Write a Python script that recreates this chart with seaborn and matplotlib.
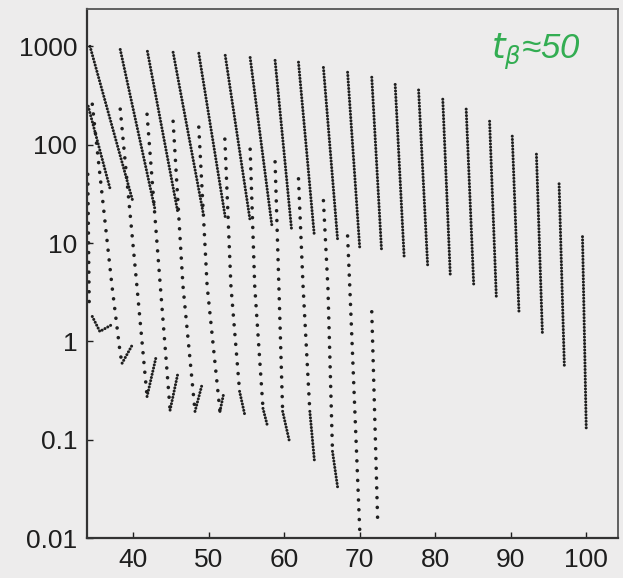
import matplotlib
matplotlib.use("Agg")
import matplotlib.pyplot as plt
import seaborn as sns

# -----------------------------
# Data (x = mass number, y on log scale)
# -----------------------------
# dense branches hanging from the top: start point -> end point
top_x_start = [34.3, 38.3, 41.9, 45.3, 48.7, 52.2, 55.5, 58.8, 61.9, 65.2, 68.4,
               71.6, 74.7, 77.8, 81.0, 84.1, 87.2, 90.2, 93.4, 96.4, 99.5]
top_y_start = [1000, 930, 890, 870, 850, 810, 770, 720, 690, 610, 545,
               485, 410, 360, 290, 230, 173, 122, 80, 40, 11.6]
top_x_end = [40.0, 42.9, 45.9, 49.3, 52.2, 55.5, 58.4, 61.0, 64.0, 67.1, 70.0,
             72.9, 75.9, 79.0, 82.0, 85.1, 88.1, 91.1, 94.2, 97.1, 100.0]
top_y_end = [26, 22, 21, 19.8, 18.4, 16.8, 14.6, 13.3, 11.8, 10.3, 9.1,
             8.3, 6.9, 5.9, 4.6, 3.7, 2.7, 1.9, 1.15, 0.55, 0.124]

# sparse (dotted) branches, a few points along each
sparse_x = [
    [34.0, 34.2],
    [34.6, 37.2, 38.3, 38.55],
    [38.3, 40.5, 41.85],
    [41.85, 43.6, 44.9],
    [45.3, 46.6, 48.2],
    [48.7, 49.8, 51.5],
    [52.15, 52.95, 54.1],
    [55.5, 56.1, 57.2],
    [58.8, 59.3, 59.8],
    [61.9, 62.5, 63.4],
    [65.2, 65.8, 66.4],
    [68.4, 68.7, 70.1],
    [71.6, 72.0, 72.4],
]
sparse_y = [
    [50, 2.05],
    [258, 3.7, 0.75, 0.6],
    [230, 3.7, 0.275],
    [204, 3.7, 0.2],
    [173, 3.7, 0.194],
    [151, 3.7, 0.194],
    [114, 3.7, 0.31],
    [90, 3.7, 0.208],
    [67, 3.7, 0.194],
    [45, 3.7, 0.194],
    [27, 3.44, 0.076],
    [11.8, 3.44, 0.008],
    [2.0, 0.165, 0.0132],
]

# short dense strokes (the lone segment at the left, bottom tails and hooks)
stroke_x = [
    [34.06, 36.96],
    [34.6, 35.6, 37.2],
    [38.55, 40.0],
    [41.85, 43.0],
    [44.9, 45.9],
    [48.2, 49.1],
    [51.5, 52.0],
    [54.1, 54.8],
    [57.2, 57.8],
    [59.8, 60.7],
    [63.4, 64.0],
    [66.4, 67.1],
]
stroke_y = [
    [246, 35.5],
    [1.79, 1.26, 1.48],
    [0.6, 0.95],
    [0.275, 0.67],
    [0.2, 0.46],
    [0.194, 0.356],
    [0.194, 0.296],
    [0.31, 0.177],
    [0.208, 0.137],
    [0.194, 0.096],
    [0.194, 0.062],
    [0.076, 0.032],
]

ytick_vals = [0.01, 0.1, 1, 10, 100, 1000]
ytick_labels = ["0.01", "0.1", "1", "10", "100", "1000"]
xtick_vals = [40, 50, 60, 70, 80, 90, 100]

BG = "#edecec"
INK = "#1f1f1f"

# -----------------------------
# Plot
# -----------------------------
sns.set_style("ticks")
plt.rcParams["font.family"] = ["Liberation Sans", "DejaVu Sans"]

fig = plt.figure(figsize=(6.23, 5.78), dpi=100, facecolor=BG)
ax = fig.add_axes([87 / 623, 1 - 538 / 578, 531 / 623, 529 / 578])
ax.set_facecolor(BG)
ax.set_yscale("log")

dense_style = dict(color=INK, lw=2.2, linestyle=(0, (0.01, 1.05)),
                   dash_capstyle="round", sort=False, estimator=None)
sparse_style = dict(color=INK, lw=2.6, linestyle=(0, (0.01, 2.7)),
                    dash_capstyle="round", sort=False, estimator=None)

for xs, ys, xe, ye in zip(top_x_start, top_y_start, top_x_end, top_y_end):
    sns.lineplot(x=[xs, xe], y=[ys, ye], ax=ax, **dense_style)

for xs, ys in zip(sparse_x, sparse_y):
    sns.lineplot(x=xs, y=ys, ax=ax, **sparse_style)

for xs, ys in zip(stroke_x, stroke_y):
    sns.lineplot(x=xs, y=ys, ax=ax, **dense_style)

ax.set_xlim(33.9, 104.2)
ax.set_ylim(0.01, 2400)
ax.set_yticks(ytick_vals)
ax.set_yticklabels(ytick_labels)
ax.set_xticks(xtick_vals)
ax.minorticks_off()
ax.set_xlabel("")
ax.set_ylabel("")
ax.tick_params(direction="in", length=4, width=1, labelsize=19,
               colors="#1e1e1e", pad=7)

for side in ["left", "bottom"]:
    ax.spines[side].set_color("#333333")
    ax.spines[side].set_linewidth(1.6)
for side in ["top", "right"]:
    ax.spines[side].set_visible(True)
    ax.spines[side].set_color("#555555")
    ax.spines[side].set_linewidth(1.3)

# handwritten note in green
ax.text(0.845, 0.918, r"$t_{\beta}$≈50", transform=ax.transAxes,
        ha="center", va="center", color="#33ad52", fontsize=25,
        style="italic")

plt.savefig("out.png", dpi=100, facecolor=BG)
plt.close()
